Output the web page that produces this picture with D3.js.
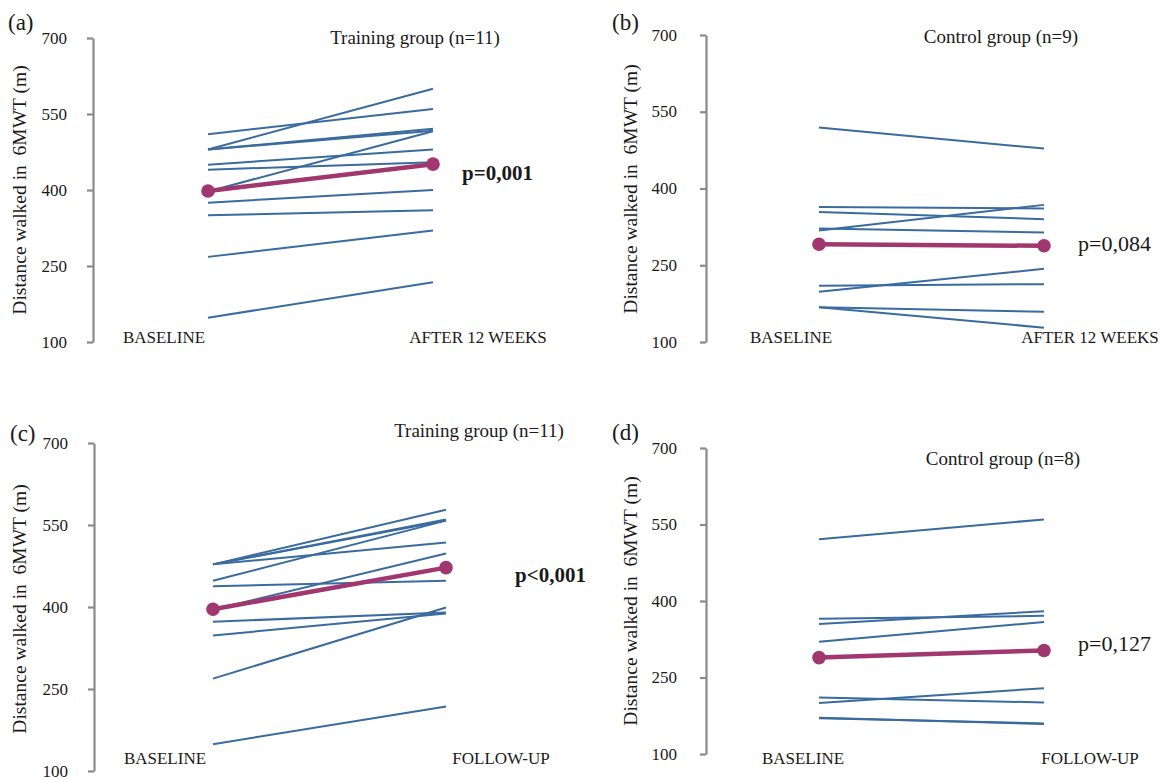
<!DOCTYPE html>
<html>
<head>
<meta charset="utf-8">
<script src="https://cdn.jsdelivr.net/npm/d3@7"></script>
<style>
  body { margin: 0; background: #fff; }
  text { font-family: "Liberation Serif", "Times New Roman", serif; fill: #1a1a1a; }
</style>
</head>
<body>
<svg id="chart" width="1160" height="780"></svg>
<script>
// ---- data ----
const yTicks = [100, 250, 400, 550, 700];
const catsAfter = ["BASELINE", "AFTER 12 WEEKS"];
const catsFollow = ["BASELINE", "FOLLOW-UP"];

const aBaseline = [510, 480, 480, 480, 450, 440, 397, 375, 350, 268, 148];
const aAfter    = [560, 600, 521, 517, 480, 455, 516, 400, 360, 320, 218];
const aMean     = [398, 451];

const bBaseline = [519, 364, 354, 322, 318, 210, 198, 168, 168];
const bAfter    = [478, 361, 340, 314, 368, 213, 243, 159, 128];
const bMean     = [291, 288];

const cBaseline = [478, 478, 478, 478, 448, 438, 395, 373, 348, 269, 149];
const cAfter    = [578, 558, 560, 518, 558, 448, 498, 390, 388, 399, 218];
const cMean     = [396, 472];

const dBaseline = [521, 365, 355, 320, 211, 200, 171, 170];
const dAfter    = [560, 371, 380, 359, 201, 229, 159, 160];
const dMean     = [289, 303];

const titles = ["Training group (n=11)", "Control group (n=9)", "Training group (n=11)", "Control group (n=8)"];
const pValues = ["p=0,001", "p=0,084", "p<0,001", "p=0,127"];
const letters = ["(a)", "(b)", "(c)", "(d)"];
const yTitle = "Distance walked in  6MWT (m)";

// ---- layout ----
const panels = [
  { cats: catsAfter, base: aBaseline, after: aAfter, mean: aMean, title: titles[0], p: pValues[0], bold: true, letter: letters[0],
    axisX: 93, yTop: 38, yBot: 342, x0: 208, x1: 433, tickPad: 20,
    titleX: 415, titleY: 37, catY: 337, catOff: [-44, 45], pX: 462, pY: 173, letX: 8, letY: 22, ytX: 19, ytY: 190 },
  { cats: catsAfter, base: bBaseline, after: bAfter, mean: bMean, title: titles[1], p: pValues[1], bold: false, letter: letters[1],
    axisX: 706, yTop: 35, yBot: 342, x0: 819, x1: 1044, tickPad: 23,
    titleX: 1001, titleY: 36, catY: 337, catOff: [-28, 46], pX: 1078, pY: 243, letX: 612, letY: 22, ytX: 630, ytY: 189 },
  { cats: catsFollow, base: cBaseline, after: cAfter, mean: cMean, title: titles[2], p: pValues[2], bold: true, letter: letters[2],
    axisX: 94, yTop: 443, yBot: 771, x0: 213, x1: 446, tickPad: 20,
    titleX: 479, titleY: 430, catY: 758, catOff: [-48, 55], pX: 515, pY: 575, letX: 10, letY: 433, ytX: 19, ytY: 609 },
  { cats: catsFollow, base: dBaseline, after: dAfter, mean: dMean, title: titles[3], p: pValues[3], bold: false, letter: letters[3],
    axisX: 706, yTop: 448, yBot: 754, x0: 819, x1: 1044, tickPad: 23,
    titleX: 1003, titleY: 458, catY: 758, catOff: [-16, 46], pX: 1078, pY: 643, letX: 612, letY: 432, ytX: 630, ytY: 601 }
];

const blue = "#3a6b9f";
const maroon = "#a0376e";
const axisGray = "#8a8a8a";

const svg = d3.select("#chart");

panels.forEach(P => {
  const g = svg.append("g");
  const y = d3.scaleLinear().domain([100, 700]).range([P.yBot, P.yTop]);
  const x = d3.scalePoint().domain(P.cats).range([P.x0, P.x1]);

  // axis
  const ax = g.append("g").attr("transform", `translate(${P.axisX},0)`)
    .call(d3.axisLeft(y).tickValues(yTicks).tickSize(6).tickSizeOuter(0).tickPadding(P.tickPad).tickFormat(d3.format("d")));
  ax.select(".domain").attr("stroke", axisGray).attr("stroke-width", 2.2);
  ax.selectAll(".tick line").attr("stroke", axisGray).attr("stroke-width", 2.2);
  ax.selectAll(".tick text").style("font-family", '"Liberation Serif", serif').style("font-size", "17px")
    .attr("fill", "#1a1a1a").attr("dy", "0.3em");

  // individual lines
  const pairs = P.base.map((b, i) => [b, P.after[i]]);
  g.selectAll("line.ind").data(pairs).enter().append("line")
    .attr("x1", x(P.cats[0])).attr("x2", x(P.cats[1]))
    .attr("y1", d => y(d[0])).attr("y2", d => y(d[1]))
    .attr("stroke", blue).attr("stroke-width", 2);

  // mean line
  g.append("line")
    .attr("x1", x(P.cats[0])).attr("x2", x(P.cats[1]))
    .attr("y1", y(P.mean[0])).attr("y2", y(P.mean[1]))
    .attr("stroke", maroon).attr("stroke-width", 4.5);
  g.selectAll("circle.mean").data(P.mean).enter().append("circle")
    .attr("cx", (d, i) => x(P.cats[i])).attr("cy", d => y(d)).attr("r", 6.8).attr("fill", maroon);

  // category labels
  g.selectAll("text.cat").data(P.cats).enter().append("text")
    .attr("x", (d, i) => x(d) + P.catOff[i]).attr("y", P.catY).attr("dy", "0.35em")
    .attr("text-anchor", "middle").style("font-size", "17px").text(d => d);

  // title
  g.append("text").attr("x", P.titleX).attr("y", P.titleY).attr("dy", "0.35em")
    .attr("text-anchor", "middle").style("font-size", "19px").text(P.title);

  // p value
  g.append("text").attr("x", P.pX).attr("y", P.pY).attr("dy", "0.35em")
    .style("font-size", P.bold ? "21px" : "22px").style("font-weight", P.bold ? "bold" : "normal").text(P.p);

  // letter
  g.append("text").attr("x", P.letX).attr("y", P.letY).attr("dy", "0.35em")
    .style("font-size", "23px").text(P.letter);

  // y title
  g.append("text").attr("transform", `translate(${P.ytX},${P.ytY}) rotate(-90)`).attr("dy", "0.35em")
    .attr("text-anchor", "middle").style("font-size", "19.5px").style("white-space", "pre").text(yTitle);
});
</script>
</body>
</html>
